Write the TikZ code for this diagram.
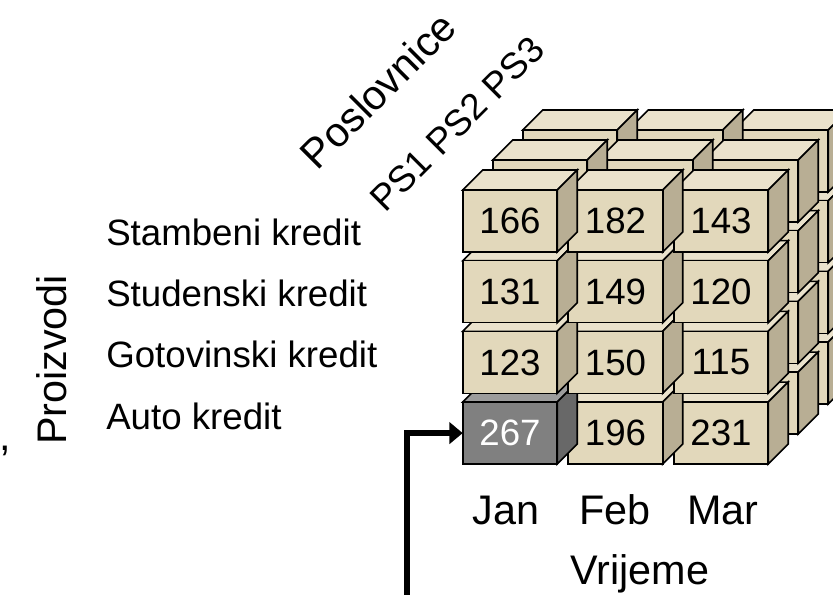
\documentclass[tikz,border=0pt]{standalone}
\usepackage{fontspec}
\setmainfont{Liberation Sans}
\usetikzlibrary{calc,arrows.meta}
\definecolor{beigeF}{RGB}{226,216,187}
\definecolor{beigeT}{RGB}{234,226,204}
\definecolor{beigeS}{RGB}{184,174,148}
\colorlet{beigeX}{black}
\definecolor{sivaF}{RGB}{128,128,128}
\definecolor{sivaT}{RGB}{156,156,156}
\definecolor{sivaS}{RGB}{104,104,104}
\colorlet{sivaX}{white}
\tikzset{
	celija/.style={draw, line width=1.2pt, anchor=north west, minimum width=70.875pt, minimum height=46.5pt, inner sep=0pt, outer sep=0pt, font=\fontsize{27.5}{30}\selectfont},
	oznaka/.style={inner sep=0pt, font=\fontsize{27.5}{30}\selectfont},
	os/.style={inner sep=0pt, font=\fontsize{31}{34}\selectfont},
	strelica/.style={line width=4.8pt, -{Triangle[length=10pt,width=16pt]}}
}
\def\kocka[#1](#2,#3)#4#5{
	\draw[line width=1.2pt, fill=#1T] (#2,#3) -- ++(20,-20) -- ++(94.5,0) -- ++(-20,20) -- cycle;
	\draw[line width=1.2pt, fill=#1S] ($(#2,#3)+(94.5,0)$) -- ++(20,-20) -- ++(0,62) -- ++(-20,20) -- cycle;
	\node[celija, fill=#1F, text=#1X] (#4) at (#2,#3) {#5};
}

\begin{document}
\begin{tikzpicture}[x=0.75pt, y=-0.75pt]
			%%%%% START %%%%%
			
			\useasboundingbox (0,0) rectangle (833,595);
			
			% zadnji slojevi (PS3, PS2)
			\foreach \sl in {2,1}
				\foreach \ri in {3,2,1,0}
					\foreach \ki in {2,1,0}
						{\kocka[beige](462.7+105.5*\ki+30*\sl,190+70.7*\ri-30*\sl){s\sl\ri\ki}{}}
			
			% prednji sloj (PS1)
			\foreach \ri/\va/\vb/\vc/\boja in {3/267/196/231/siva, 2/123/150/115/beige, 1/131/149/120/beige, 0/166/182/143/beige}
				\foreach \ki/\val/\bj in {2/\vc/beige, 1/\vb/beige, 0/\va/\boja}
					{\kocka[\bj](462.7+105.5*\ki,190+70.7*\ri){c\ri\ki}{\val}}
			
			\node[oznaka, anchor=base west] (stambeni) at (106, 246) {Stambeni kredit};
			\node[oznaka, anchor=base west] (studenski) at (106, 307) {Studenski kredit};
			\node[oznaka, anchor=base west] (gotovinski) at (106, 368) {Gotovinski kredit};
			\node[oznaka, anchor=base west] (auto) at (106, 430) {Auto kredit};
			
			\node[os, rotate=90, anchor=base] (proizvodi) at (66, 360) {Proizvodi};
			\node[os, anchor=base west] (zarez) at (-1, 451) {,};
			
			\node[os, rotate=45] (poslovnice) at (378, 90) {Poslovnice};
			\node[oznaka, rotate=45] (ps) at (457, 124) {PS1 PS2 PS3};
			
			\node[os, anchor=base] (jan) at (506, 525) {Jan};
			\node[os, anchor=base] (feb) at (615, 525) {Feb};
			\node[os, anchor=base] (mar) at (723, 525) {Mar};
			\node[os, anchor=base] (vrijeme) at (640, 585) {Vrijeme};
			
			\coordinate (dno) at (407, 600);
			\draw[strelica] (dno) |- (c30.west);
			
			%%%%% END %%%%%
\end{tikzpicture}
\end{document}
